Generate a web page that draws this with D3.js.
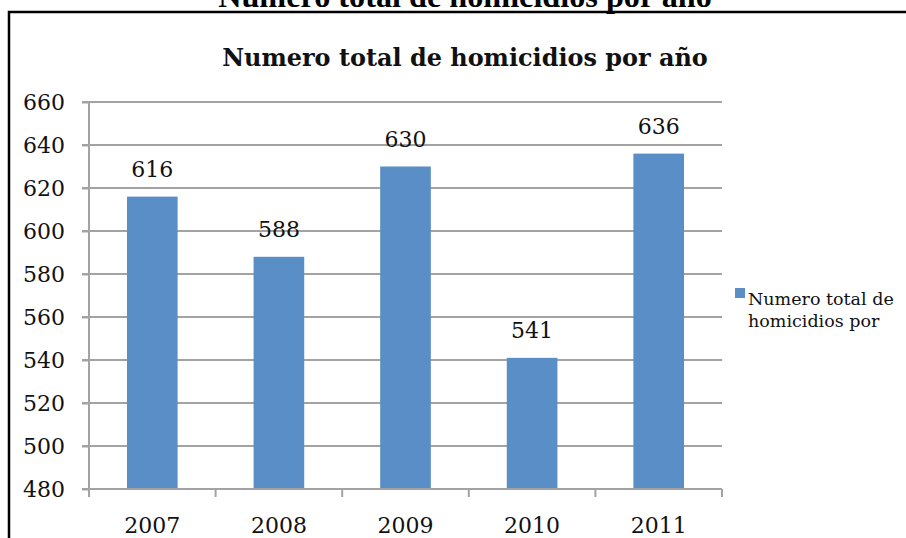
<!DOCTYPE html>
<html>
<head>
<meta charset="utf-8">
<script src="https://cdn.jsdelivr.net/npm/d3@7"></script>
<style>
  html, body { margin: 0; padding: 0; background: #fff; }
  svg { display: block; }
</style>
</head>
<body>
<svg id="chart" width="906" height="538"></svg>
<script>
// Homicide totals per year
const years = ["2007", "2008", "2009", "2010", "2011"];
const homicides = [616, 588, 630, 541, 636];
const yTicks = [480, 500, 520, 540, 560, 580, 600, 620, 640, 660];
const chartTitle = "Numero total de homicidios por año";
const legendLines = ["Numero total de", "homicidios por"];

const W = 906, H = 538;
const svg = d3.select("#chart");
const serif = "'DejaVu Serif', serif";
const ink = "#111";
const barColor = "#5a8ec6";
const gridColor = "#a3a3a3";
const labelSize = 22;

svg.append("rect").attr("width", W).attr("height", H).attr("fill", "#fff");

// fit a text node to a given width by scaling its font size
function fitWidth(sel, target) {
  const w = sel.node().getComputedTextLength();
  const fs = parseFloat(sel.attr("font-size"));
  sel.attr("font-size", fs * target / w);
}

// Caption above the frame (runs off the top of the page)
const cap = svg.append("text")
  .attr("x", 465).attr("y", 7)
  .attr("text-anchor", "middle")
  .attr("font-family", "'Liberation Serif', 'Times New Roman', serif")
  .attr("font-weight", "bold")
  .attr("font-size", 22)
  .attr("fill", "#000")
  .text(chartTitle);
fitWidth(cap, 494);

// Frame around the chart
svg.append("rect")
  .attr("x", 9).attr("y", 12)
  .attr("width", 1000).attr("height", 1000)
  .attr("fill", "none")
  .attr("stroke", "#000")
  .attr("stroke-width", 2.5);

// Chart title
const title = svg.append("text")
  .attr("x", 465).attr("y", 66)
  .attr("text-anchor", "middle")
  .attr("font-family", serif)
  .attr("font-weight", "bold")
  .attr("font-size", 24)
  .attr("fill", ink)
  .text(chartTitle);
fitWidth(title, 486);

const plot = { left: 89, right: 722, top: 102, bottom: 489 };

const x = d3.scaleBand()
  .domain(years)
  .range([plot.left, plot.right])
  .paddingInner(0.6)
  .paddingOuter(0.3);

const y = d3.scaleLinear()
  .domain([480, 660])
  .range([plot.bottom, plot.top]);

// Gridlines
svg.append("g")
  .selectAll("line")
  .data(yTicks)
  .join("line")
  .attr("x1", plot.left - 7).attr("x2", plot.right)
  .attr("y1", d => y(d)).attr("y2", d => y(d))
  .attr("stroke", gridColor)
  .attr("stroke-width", 2);

// Y axis
const yAxis = svg.append("g")
  .attr("transform", `translate(${plot.left},0)`)
  .call(d3.axisLeft(y).tickValues(yTicks).tickSize(7).tickPadding(17).tickFormat(d3.format("d")));
yAxis.select(".domain").attr("stroke", gridColor).attr("stroke-width", 2)
  .attr("d", `M0,${plot.top}V${plot.bottom + 8}`);
yAxis.selectAll(".tick line").attr("stroke", gridColor).attr("stroke-width", 2);
yAxis.selectAll(".tick text")
  .attr("font-family", serif).attr("font-size", labelSize).attr("fill", ink);

// Bars
svg.append("g")
  .selectAll("rect")
  .data(years.map((yr, i) => ({ yr, v: homicides[i] })))
  .join("rect")
  .attr("x", d => x(d.yr))
  .attr("y", d => y(d.v))
  .attr("width", x.bandwidth())
  .attr("height", d => y(480) - y(d.v))
  .attr("fill", barColor);

// X axis with ticks on category boundaries
const xg = svg.append("g");
xg.append("line")
  .attr("x1", plot.left).attr("x2", plot.right)
  .attr("y1", plot.bottom).attr("y2", plot.bottom)
  .attr("stroke", gridColor).attr("stroke-width", 2);
xg.selectAll("line.tk")
  .data(d3.range(years.length + 1))
  .join("line")
  .attr("class", "tk")
  .attr("x1", i => plot.left + i * (plot.right - plot.left) / years.length)
  .attr("x2", i => plot.left + i * (plot.right - plot.left) / years.length)
  .attr("y1", plot.bottom).attr("y2", plot.bottom + 8)
  .attr("stroke", gridColor).attr("stroke-width", 2);
xg.selectAll("text")
  .data(years)
  .join("text")
  .attr("x", d => x(d) + x.bandwidth() / 2)
  .attr("y", 533)
  .attr("text-anchor", "middle")
  .attr("font-family", serif).attr("font-size", labelSize).attr("fill", ink)
  .text(d => d);

// Value labels
svg.append("g")
  .selectAll("text")
  .data(years.map((yr, i) => ({ yr, v: homicides[i] })))
  .join("text")
  .attr("x", d => x(d.yr) + x.bandwidth() / 2)
  .attr("y", d => y(d.v) - 20)
  .attr("text-anchor", "middle")
  .attr("font-family", serif).attr("font-size", labelSize).attr("fill", ink)
  .text(d => d.v);

// Legend
const lg = svg.append("g");
lg.append("rect")
  .attr("x", 735).attr("y", 288).attr("width", 10).attr("height", 10)
  .attr("fill", barColor);
lg.selectAll("text")
  .data(legendLines)
  .join("text")
  .attr("x", 748)
  .attr("y", (d, i) => 305 + i * 22)
  .attr("font-family", serif).attr("font-size", 17.5).attr("fill", ink)
  .text(d => d);
</script>
</body>
</html>
